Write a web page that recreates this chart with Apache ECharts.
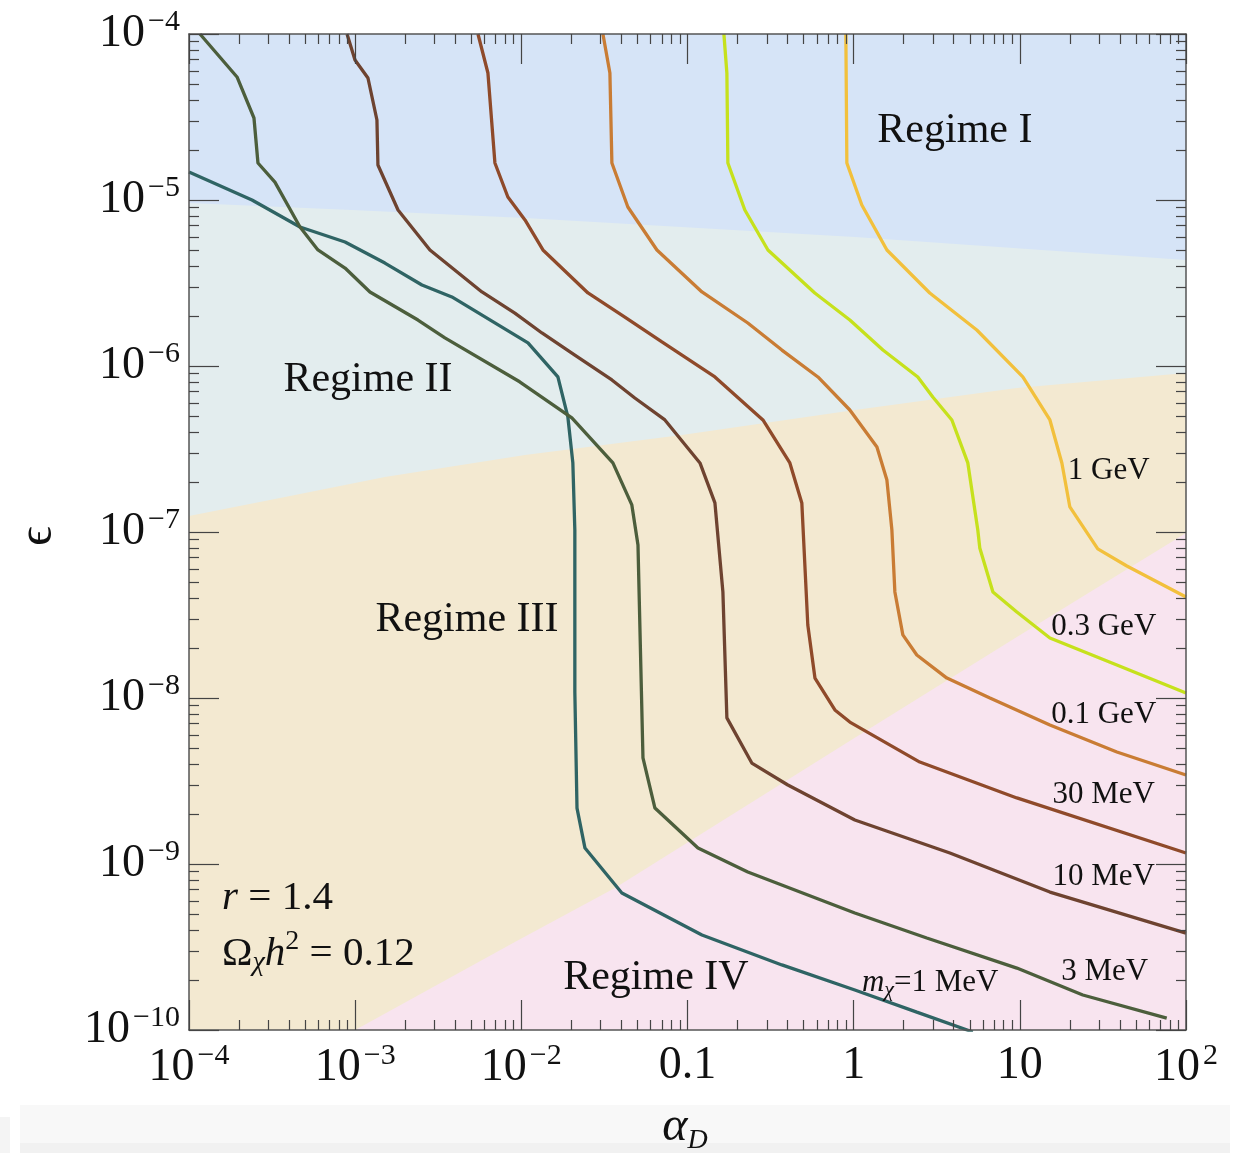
<!DOCTYPE html>
<html>
<head>
<meta charset="utf-8">
<title>Relic density contours in the (alpha_D, epsilon) plane</title>
<script src="https://cdn.jsdelivr.net/npm/echarts/dist/echarts.min.js"></script>
<style>
  html, body { margin: 0; padding: 0; background: #ffffff; }
  #chart { width: 1246px; height: 1153px; }
</style>
</head>
<body>
<div id="chart"></div>
<script>
// All points are [log10(alpha_D), log10(epsilon)].

// Contours of Omega_chi h^2 = 0.12 for each dark matter mass
const mass1MeV = [[-4.000,-4.831],[-3.621,-5.000],[-3.332,-5.163],[-3.061,-5.253],[-2.821,-5.380],[-2.598,-5.512],[-2.418,-5.584],[-1.960,-5.861],[-1.780,-6.066],[-1.720,-6.307],[-1.690,-6.584],[-1.678,-6.988],[-1.678,-7.964],[-1.665,-8.663],[-1.617,-8.904],[-1.395,-9.175],[-0.913,-9.428],[-0.432,-9.608],[0.007,-9.759],[0.380,-9.892],[0.717,-10.012]];
const mass3MeV = [[-3.934,-4.000],[-3.711,-4.259],[-3.609,-4.506],[-3.585,-4.777],[-3.483,-4.892],[-3.332,-5.163],[-3.224,-5.301],[-3.061,-5.410],[-2.911,-5.554],[-2.622,-5.723],[-2.460,-5.831],[-2.010,-6.095],[-1.696,-6.313],[-1.449,-6.584],[-1.335,-6.837],[-1.298,-7.078],[-1.268,-8.361],[-1.196,-8.663],[-0.937,-8.904],[-0.637,-9.048],[0.007,-9.295],[0.440,-9.446],[0.982,-9.627],[1.379,-9.789],[1.884,-9.928]];
const mass10MeV = [[-3.049,-4.000],[-3.001,-4.157],[-2.923,-4.265],[-2.869,-4.518],[-2.863,-4.789],[-2.742,-5.060],[-2.550,-5.301],[-2.237,-5.554],[-2.039,-5.681],[-1.876,-5.801],[-1.678,-5.934],[-1.455,-6.084],[-1.317,-6.193],[-1.136,-6.325],[-0.925,-6.584],[-0.835,-6.825],[-0.787,-7.361],[-0.763,-8.120],[-0.613,-8.392],[-0.396,-8.524],[0.007,-8.735],[0.579,-8.934],[1.181,-9.169],[2.000,-9.416]];
const mass30MeV = [[-2.261,-4.000],[-2.201,-4.235],[-2.159,-4.777],[-2.081,-4.982],[-1.978,-5.120],[-1.870,-5.301],[-1.599,-5.560],[-1.377,-5.705],[-1.154,-5.855],[-0.835,-6.066],[-0.546,-6.325],[-0.384,-6.584],[-0.312,-6.825],[-0.276,-7.560],[-0.233,-7.880],[-0.113,-8.072],[-0.023,-8.145],[0.398,-8.386],[0.982,-8.602],[2.000,-8.934]];
const mass100MeV = [[-1.509,-4.000],[-1.467,-4.235],[-1.455,-4.777],[-1.359,-5.042],[-1.184,-5.301],[-0.913,-5.554],[-0.637,-5.741],[-0.432,-5.904],[-0.215,-6.066],[-0.023,-6.265],[0.140,-6.488],[0.200,-6.687],[0.230,-6.988],[0.248,-7.361],[0.296,-7.620],[0.380,-7.741],[0.561,-7.880],[0.820,-8.000],[1.181,-8.163],[1.584,-8.325],[2.000,-8.464]];
const mass300MeV = [[-0.781,-4.000],[-0.763,-4.235],[-0.757,-4.777],[-0.655,-5.060],[-0.516,-5.301],[-0.234,-5.560],[-0.023,-5.723],[0.176,-5.904],[0.386,-6.066],[0.476,-6.187],[0.591,-6.325],[0.687,-6.584],[0.747,-6.988],[0.759,-7.096],[0.838,-7.361],[0.982,-7.482],[1.181,-7.639],[1.584,-7.801],[2.000,-7.970]];
const mass1GeV = [[-0.047,-4.000],[-0.041,-4.777],[0.049,-5.030],[0.200,-5.301],[0.458,-5.560],[0.741,-5.783],[1.018,-6.066],[1.181,-6.325],[1.253,-6.584],[1.301,-6.849],[1.469,-7.102],[1.644,-7.205],[2.000,-7.392]];

const curveNames = ['1 MeV', '3 MeV', '10 MeV', '30 MeV', '0.1 GeV', '0.3 GeV', '1 GeV'];
const curveData = [mass1MeV, mass3MeV, mass10MeV, mass30MeV, mass100MeV, mass300MeV, mass1GeV];
const curveColors = ['#2f6464', '#4c5e3c', '#6e4330', '#8f4a2a', '#c97c34', '#c6e11c', '#f2c03c'];

// Boundaries between the four regimes (each region is filled below its upper boundary)
const boundaryI_II = [[-4.000,-5.018],[-3.019,-5.060],[-1.978,-5.108],[0.007,-5.223],[2.000,-5.361]];
const boundaryII_III = [[-4.000,-6.904],[-3.422,-6.789],[-2.821,-6.669],[-1.978,-6.536],[-1.034,-6.416],[0.007,-6.265],[0.982,-6.133],[2.000,-6.042]];
const boundaryIII_IV = [[-3.000,-10.000],[-2.039,-9.470],[-1.437,-9.145],[0.007,-8.240],[0.982,-7.633],[2.000,-7.006]];
const regimeColors = ['#d6e4f7', '#e3edee', '#f3e9d1', '#f8e4ef'];

// Tick marks and tick labels
const xTickValues = [-4, -3, -2, -1, 0, 1, 2];
const xTickBase = ['10', '10', '10', '0.1', '1', '10', '10'];
const xTickPower = ['\u22124', '\u22123', '\u22122', '', '', '', '2'];
const yTickValues = [-10, -9, -8, -7, -6, -5, -4];
const yTickBase = ['10', '10', '10', '10', '10', '10', '10'];
const yTickPower = ['\u221210', '\u22129', '\u22128', '\u22127', '\u22126', '\u22125', '\u22124'];
const minorMultiples = [2, 3, 4, 5, 6, 7, 8, 9];

// Text placed inside the plot: [log10(alpha_D), log10(epsilon)]
const annotationPos = [[0.609,-4.584],[-2.923,-6.084],[-2.327,-7.530],[-1.190,-9.687],[-3.801,-9.205],[-3.801,-9.542],
                       [1.535,-6.633],[1.505,-7.572],[1.505,-8.102],[1.505,-8.584],[1.505,-9.078],[1.511,-9.651],[0.050,-9.717]];
const annotationText = ['{reg|Regime I}', '{reg|Regime II}', '{reg|Regime III}', '{reg|Regime IV}',
                        '{it|r}{n| = 1.4}', '{n|\u03A9}{sub|\u03C7}{it|h}{sup|2}{n| = 0.12}',
                        '{lab|1 GeV}', '{lab|0.3 GeV}', '{lab|0.1 GeV}', '{lab|30 MeV}', '{lab|10 MeV}', '{lab|3 MeV}',
                        '{lit|m}{lsub|\u03C7}{lab|=1 MeV}'];
const annotationAlign = ['center', 'center', 'center', 'center', 'left', 'left',
                         'center', 'center', 'center', 'center', 'center', 'center', 'left'];

const FONT = '"Liberation Serif", "Times New Roman", "DejaVu Serif", serif';

function minorTicks(lo, hi) {
  const out = [];
  for (let n = lo; n < hi; n++) {
    minorMultiples.forEach(k => out.push(n + Math.log10(k)));
  }
  return out;
}

const tickLabelRich = {
  b: { fontSize: 46, fontFamily: FONT, color: '#111', lineHeight: 50 },
  s: { fontSize: 30, fontFamily: FONT, color: '#111', padding: [0, 0, 24, 3] }
};

function tickFormatter(values, base, power) {
  return function (v) {
    const i = values.indexOf(Math.round(v));
    if (i < 0) return '';
    return power[i] ? '{b|' + base[i] + '}{s|' + power[i] + '}' : '{b|' + base[i] + '}';
  };
}

const lineCol = '#555';
const tickCol = '#444';

function axisPair(kind, min, max, posMajor, withLabels, formatter, minor) {
  const major = {
    type: 'value', position: posMajor, min: min, max: max, interval: 1, z: 10,
    axisLine: { show: true, onZero: false, lineStyle: { color: lineCol, width: 1.5 } },
    axisTick: { show: true, inside: true, length: 30, lineStyle: { color: tickCol, width: 1.2 } },
    splitLine: { show: false },
    axisLabel: withLabels ? {
      show: true, margin: kind === 'x' ? 11 : 9, formatter: formatter, rich: tickLabelRich,
      showMinLabel: true, showMaxLabel: true
    } : { show: false }
  };
  const minorAxis = {
    type: 'value', position: posMajor, min: min, max: max, z: 10,
    axisLine: { show: false, onZero: false },
    axisTick: { show: true, inside: true, length: 10, customValues: minor, lineStyle: { color: tickCol, width: 1.2 } },
    splitLine: { show: false },
    axisLabel: { show: false }
  };
  return [major, minorAxis];
}

const xMinor = minorTicks(-4, 2);
const yMinor = minorTicks(-10, -4);
const xFmt = tickFormatter(xTickValues, xTickBase, xTickPower);
const yFmt = tickFormatter(yTickValues, yTickBase, yTickPower);

const xAxes = axisPair('x', -4, 2, 'bottom', true, xFmt, xMinor).concat(axisPair('x', -4, 2, 'top', false, null, xMinor));
const yAxes = axisPair('y', -10, -4, 'left', true, yFmt, yMinor).concat(axisPair('y', -10, -4, 'right', false, null, yMinor));

// Regime fills: Regime I is the grid background, the others are areas filled down to the bottom
const regionSeries = [boundaryI_II, boundaryII_III, boundaryIII_IV].map((b, i) => ({
  type: 'line', data: b, xAxisIndex: 0, yAxisIndex: 0, symbol: 'none', silent: true, z: 1,
  lineStyle: { width: 0, opacity: 0 },
  areaStyle: { color: regimeColors[i + 1], opacity: 1, origin: 'start' },
  animation: false
}));

const curveSeries = curveData.map((d, i) => ({
  name: curveNames[i], type: 'line', data: d, xAxisIndex: 0, yAxisIndex: 0,
  symbol: 'none', smooth: false, clip: true, z: 3, silent: true,
  lineStyle: { color: curveColors[i], width: 3.3 },
  animation: false
}));

const annoRich = {
  reg: { fontSize: 42, fontFamily: FONT, fill: '#111', lineHeight: 48 },
  n:   { fontSize: 41, fontFamily: FONT, fill: '#111', lineHeight: 48 },
  it:  { fontSize: 41, fontFamily: FONT, fontStyle: 'italic', fill: '#111', lineHeight: 48 },
  sub: { fontSize: 28, fontFamily: FONT, fontStyle: 'italic', fill: '#111', padding: [18, 0, 0, 0] },
  sup: { fontSize: 28, fontFamily: FONT, fill: '#111', padding: [0, 0, 24, 0] },
  lab: { fontSize: 31, fontFamily: FONT, fill: '#111', lineHeight: 36 },
  lit: { fontSize: 31, fontFamily: FONT, fontStyle: 'italic', fill: '#111', lineHeight: 36 },
  lsub:{ fontSize: 22, fontFamily: FONT, fontStyle: 'italic', fill: '#111', padding: [14, 0, 0, 0] }
};

const annotationSeries = {
  type: 'custom', xAxisIndex: 0, yAxisIndex: 0, z: 6, silent: true, clip: false,
  data: annotationPos.map((p, i) => [p[0], p[1], i]),
  renderItem: function (params, api) {
    const i = api.value(2);
    const pt = api.coord([api.value(0), api.value(1)]);
    return {
      type: 'text', x: pt[0], y: pt[1],
      style: {
        text: annotationText[i], rich: annoRich,
        fontFamily: FONT, fontSize: 30, fill: '#111',
        align: annotationAlign[i], verticalAlign: 'middle'
      }
    };
  },
  animation: false
};

const chart = echarts.init(document.getElementById('chart'), null, { renderer: 'canvas' });
chart.setOption({
  backgroundColor: '#ffffff',
  animation: false,
  grid: { left: 189, right: 60, top: 34, bottom: 123, show: true, backgroundColor: regimeColors[0], borderWidth: 0 },
  xAxis: xAxes,
  yAxis: yAxes,
  series: regionSeries.concat(curveSeries, [annotationSeries]),
  graphic: [
    { type: 'rect', silent: true, z: -10, shape: { x: 20, y: 1105, width: 1210, height: 38 }, style: { fill: '#f8f8f8' } },
    { type: 'rect', silent: true, z: -10, shape: { x: 20, y: 1143, width: 1210, height: 10 }, style: { fill: '#f1f1f1' } },
    { type: 'rect', silent: true, z: -10, shape: { x: 0, y: 1117, width: 10, height: 36 }, style: { fill: '#f4f4f4' } },
    {
      type: 'text', silent: true, z: 20, x: 685, y: 1127,
      style: {
        text: '{a|\u03B1}{d|D}', align: 'center', verticalAlign: 'middle',
        rich: {
          a: { fontSize: 48, fontFamily: FONT, fontStyle: 'italic', fill: '#111', lineHeight: 50 },
          d: { fontSize: 28, fontFamily: FONT, fontStyle: 'italic', fill: '#111', padding: [28, 0, 0, 0] }
        }
      }
    },
    {
      type: 'text', silent: true, z: 20, x: 38, y: 536, rotation: Math.PI / 2,
      style: { text: '\u03F5', fontSize: 48, fontFamily: FONT, fill: '#111', align: 'center', verticalAlign: 'middle' }
    }
  ]
});
</script>
</body>
</html>
